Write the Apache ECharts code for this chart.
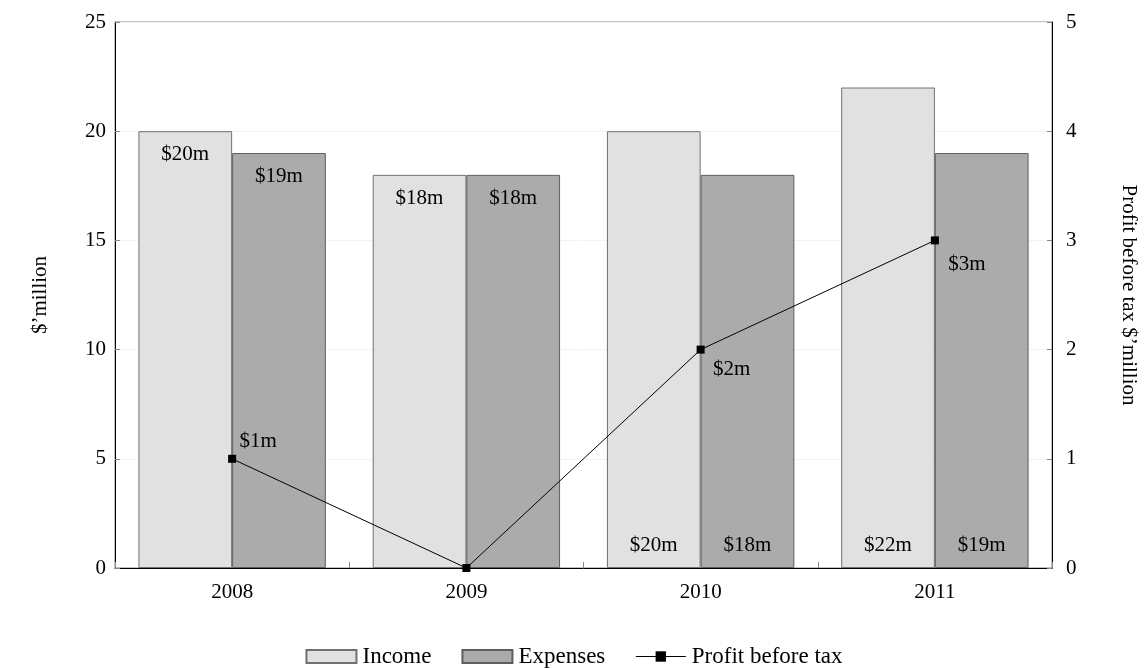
<!DOCTYPE html>
<html>
<head>
<meta charset="utf-8">
<script src="https://cdn.jsdelivr.net/npm/echarts@6/dist/echarts.min.js"></script>
<style>
  html, body { margin: 0; padding: 0; background: #fff; }
  #chart { width: 1148px; height: 668px; }
</style>
</head>
<body>
<div id="chart"></div>
<script>
// Yearly figures, $ million
const years = ['2008', '2009', '2010', '2011'];
const income = [20, 18, 20, 22];
const expenses = [19, 18, 18, 19];
const profit = [1, 0, 2, 3];

// Years whose bar labels sit at the foot of the bars instead of the top
const baseLabelYears = ['2010', '2011'];

const FONT = '"Liberation Serif", "DejaVu Serif", serif';
const FS = 21;

function barData(values) {
  return values.map((v, i) => {
    const atBase = baseLabelYears.includes(years[i]);
    return {
      value: v,
      label: atBase
        ? { position: 'insideBottom', distance: 12 }
        : { position: 'insideTop', distance: 13 }
    };
  });
}

// Profit labels: offsets chosen per point, no label for zero
const profitLabelOffsets = [[26, -17], null, [31, 20], [32, 24]];
const profitData = profit.map((v, i) => {
  const off = profitLabelOffsets[i];
  return {
    value: v,
    label: off ? { show: true, position: 'inside', offset: off } : { show: false }
  };
});

const chart = echarts.init(document.getElementById('chart'), null, { renderer: 'canvas' });

chart.setOption({
  animation: false,
  backgroundColor: '#ffffff',
  textStyle: { fontFamily: FONT, color: '#000' },
  grid: {
    left: 115, right: 96, top: 22, bottom: 100,
    show: true, borderColor: '#808080', borderWidth: 1, backgroundColor: 'transparent'
  },
  legend: {
    bottom: -5,
    left: 'center',
    itemWidth: 50,
    itemHeight: 13,
    itemGap: 30,
    lineStyle: { width: 1 },
    textStyle: { fontFamily: FONT, fontSize: 23, color: '#000', padding: [0, 0, 0, 1] },
    data: [
      { name: 'Income', icon: 'rect' },
      { name: 'Expenses', icon: 'rect' },
      { name: 'Profit before tax' }
    ]
  },
  xAxis: {
    type: 'category',
    data: years,
    boundaryGap: true,
    axisLine: { show: true, lineStyle: { color: '#000', width: 1 } },
    axisTick: { show: true, inside: true, length: 6, lineStyle: { color: '#888' } },
    axisLabel: { fontFamily: FONT, fontSize: FS, color: '#000', margin: 14 },
    splitLine: { show: false }
  },
  yAxis: [
    {
      type: 'value',
      min: 0, max: 25, interval: 5,
      name: '$\u2019million',
      nameLocation: 'middle',
      nameGap: 64,
      nameRotate: 90,
      nameTextStyle: { fontFamily: FONT, fontSize: FS, color: '#000' },
      axisLine: { show: true, lineStyle: { color: '#000', width: 1 } },
      axisTick: { show: true, inside: true, length: 5, lineStyle: { color: '#888' } },
      axisLabel: { fontFamily: FONT, fontSize: FS, color: '#000', margin: 9 },
      splitLine: { show: true, lineStyle: { color: '#f3f3f3', width: 1 } }
    },
    {
      type: 'value',
      position: 'right',
      min: 0, max: 5, interval: 1,
      name: 'Profit before tax $\u2019million',
      nameLocation: 'middle',
      nameGap: 66,
      nameRotate: -90,
      nameTextStyle: { fontFamily: FONT, fontSize: FS, color: '#000' },
      axisLine: { show: true, lineStyle: { color: '#000', width: 1 } },
      axisTick: { show: true, inside: true, length: 5, lineStyle: { color: '#888' } },
      axisLabel: { fontFamily: FONT, fontSize: FS, color: '#000', margin: 14 },
      splitLine: { show: false }
    }
  ],
  series: [
    {
      name: 'Income',
      type: 'bar',
      yAxisIndex: 0,
      barGap: '0%',
      barCategoryGap: '20%',
      itemStyle: { color: '#e1e1e1', borderColor: '#707070', borderWidth: 1 },
      label: {
        show: true, fontFamily: FONT, fontSize: FS, color: '#000',
        formatter: p => '$' + p.value + 'm'
      },
      data: barData(income)
    },
    {
      name: 'Expenses',
      type: 'bar',
      yAxisIndex: 0,
      barGap: '0%',
      barCategoryGap: '20%',
      itemStyle: { color: '#ababab', borderColor: '#5e5e5e', borderWidth: 1 },
      label: {
        show: true, fontFamily: FONT, fontSize: FS, color: '#000',
        formatter: p => '$' + p.value + 'm'
      },
      data: barData(expenses)
    },
    {
      name: 'Profit before tax',
      type: 'line',
      yAxisIndex: 1,
      symbol: 'rect',
      symbolSize: 8,
      z: 5,
      lineStyle: { color: '#000', width: 1 },
      itemStyle: { color: '#000' },
      label: {
        fontFamily: FONT, fontSize: FS, color: '#000',
        formatter: p => '$' + p.value + 'm'
      },
      data: profitData
    }
  ]
});
</script>
</body>
</html>
